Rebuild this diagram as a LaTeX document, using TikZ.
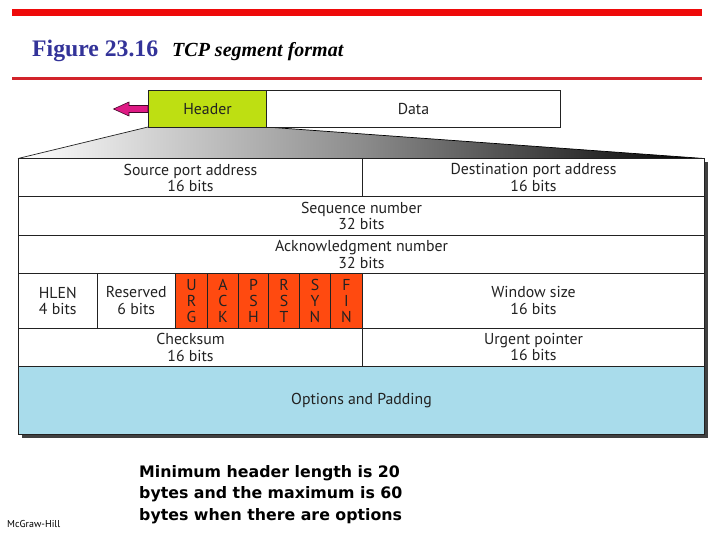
\documentclass[tikz,border=0pt]{standalone}
\usepackage{fontspec}
\setmainfont{PT Sans}
\newfontfamily\serifx{Liberation Serif}
\newfontfamily\boldx{DejaVu Sans}
\usetikzlibrary{shadings}
\definecolor{hdrgreen}{HTML}{BEDF12}
\definecolor{flagorange}{HTML}{FF4A10}
\definecolor{optblue}{HTML}{A9DCEB}
\definecolor{barred}{HTML}{EE0A0A}
\definecolor{linered}{HTML}{D2232A}
\definecolor{titleblue}{HTML}{333399}
\definecolor{arrowpink}{HTML}{DE1A84}
\definecolor{inkx}{HTML}{222222}
\tikzset{
  cellbox/.style={draw=inkx,line width=1pt,fill=white,inner sep=0pt,anchor=north west,align=center,font=\fontsize{15.8}{16.5}\selectfont,text=inkx},
  flagbox/.style={cellbox,fill=flagorange,font=\fontsize{15.8}{16}\selectfont},
}
\newcommand{\cell}[7][cellbox]{% style,name,x0,y0,x1,y1,text
  \node[#1,minimum width=#5pt-#3pt,minimum height=#6pt-#4pt] (#2) at (#3,#4) {#7};}
\begin{document}
\begin{tikzpicture}[x=1pt,y=-1pt]
\useasboundingbox (0,0) rectangle (720,540);
\fill[white] (0,0) rectangle (720,540);
% bars
\fill[barred] (12,9) rectangle (702,16);
\fill[linered] (12,77) rectangle (702,80);
% title
\node[anchor=base west,inner sep=0pt,text=titleblue,font=\serifx\bfseries\fontsize{23.7}{26}\selectfont] (title) at (32,57) {Figure 23.16};
\node[anchor=base west,inner sep=0pt,text=black,font=\serifx\bfseries\itshape\fontsize{20}{22}\selectfont] (subtitle) at (172,57) {TCP segment format};
% shadow
\fill[black!75] (22,162) rectangle (708,437.5);
% funnel
\shade[left color=white,right color=black,middle color=black!45] (18,158.5) -- (148,127) -- (266,127) -- (704,158.5) -- cycle;
\draw[inkx,line width=0.7pt] (18,158.5) -- (148,127);
\draw[black,line width=0.7pt] (266,127) -- (704,158.5);
% top boxes
\node[cellbox,fill=hdrgreen,minimum width=118pt,minimum height=36.5pt] (hdr) at (148,90.5) {Header};
\cell{data}{266}{90.5}{560}{127}{Data}
% arrow
\coordinate (tip) at (113.5,109);
\draw[fill=arrowpink,draw=black!70!arrowpink,line width=0.6pt] (hdr.west |- 0,105.5) -- (129,105.5) -- (129,102) -- (tip) -- (129,116) -- (129,112.5) -- (hdr.west |- 0,112.5) -- cycle;
% table rows
\cell{src}{18}{158.5}{362}{196}{Source port address\\16 bits}
\cell{dst}{362}{158.5}{704}{196}{Destination port address\\16 bits}
\cell{seq}{18}{196}{704}{235}{Sequence number\\32 bits}
\cell{ack}{18}{235}{704}{273}{Acknowledgment number\\32 bits}
\cell{hlen}{18}{273}{96.5}{327.5}{HLEN\\4 bits}
\cell{res}{96.5}{273}{175}{327.5}{Reserved\\6 bits}
\cell[flagbox]{urg}{175}{273}{207}{327.5}{U\\R\\G}
\cell[flagbox]{fack}{207}{273}{238}{327.5}{A\\C\\K}
\cell[flagbox]{psh}{238}{273}{268}{327.5}{P\\S\\H}
\cell[flagbox]{rst}{268}{273}{299}{327.5}{R\\S\\T}
\cell[flagbox]{syn}{299}{273}{330}{327.5}{S\\Y\\N}
\cell[flagbox]{fin}{330}{273}{362}{327.5}{F\\I\\N}
\cell{win}{362}{273}{704}{327.5}{Window size\\16 bits}
\cell{chk}{18}{327.5}{362}{366}{Checksum\\16 bits}
\cell{urp}{362}{327.5}{704}{366}{Urgent pointer\\16 bits}
\node[cellbox,fill=optblue,minimum width=686pt,minimum height=68pt] (opt) at (18,366) {Options and Padding};
% note
\node[anchor=north west,inner sep=0pt,align=left,text=black,font=\boldx\bfseries\fontsize{15.8}{21.5}\selectfont] (note) at (139,465) {Minimum header length is 20\\bytes and the maximum is 60\\bytes when there are options};
\node[anchor=base west,inner sep=0pt,text=black,font=\fontsize{10}{11}\selectfont] (mh) at (7,527.5) {McGraw-Hill};
\end{tikzpicture}
\end{document}
